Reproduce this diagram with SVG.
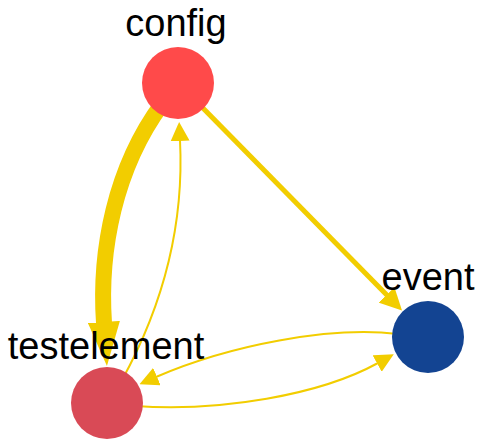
<svg xmlns="http://www.w3.org/2000/svg" width="481" height="443" viewBox="0 0 481 443">
  <style>
    .edge { fill: none; stroke: #F2CD00; }
    .thick { stroke-width: 16; }
    .mid { stroke-width: 5; }
    .thin { stroke-width: 2; }
    .label { font-family: "Liberation Sans", Arial, sans-serif; font-size: 38px; fill: #000; text-anchor: middle; }
    .head { fill: #F2CD00; }
  </style>
  <defs>
    <marker id="ahBig" markerUnits="userSpaceOnUse" viewBox="0 0 44 32" markerWidth="44" markerHeight="32" refX="1" refY="16" orient="auto">
      <path class="head" d="M0,0 L44,16 L0,32 Z"/>
    </marker>
    <marker id="ahMid" markerUnits="userSpaceOnUse" viewBox="0 0 22 22" markerWidth="22" markerHeight="22" refX="1" refY="11" orient="auto">
      <path class="head" d="M0,0 L22,11 L0,22 Z"/>
    </marker>
    <marker id="ahSmall" markerUnits="userSpaceOnUse" viewBox="0 0 19 19" markerWidth="19" markerHeight="19" refX="1" refY="9.5" orient="auto">
      <path class="head" d="M0,0 L19,9.5 L0,19 Z"/>
    </marker>
  </defs>
  <g id="connectors">
    <path id="e-config-testelement" class="edge thick" d="M162,104 C115,168 99,250 104,323" marker-end="url(#ahBig)"/>
    <path id="e-testelement-config" class="edge thin" d="M122,380 C166,300 184,220 180,140" marker-end="url(#ahSmall)"/>
    <path id="e-config-event" class="edge mid" d="M196,101 L387.3,295.6" marker-end="url(#ahMid)"/>
    <path id="e-event-testelement" class="edge thin" d="M398,334 C330,326 230,345 156,377" marker-end="url(#ahSmall)"/>
    <path id="e-testelement-event" class="edge thin" d="M135,406 C220,412 320,395 378,363" marker-end="url(#ahSmall)"/>
  </g>
  <g id="node-config">
    <circle cx="178" cy="83" r="36" fill="#FF4A4A"/>
    <text class="label" x="176" y="36">config</text>
  </g>
  <g id="node-testelement">
    <circle cx="107" cy="403" r="36" fill="#D94A56"/>
    <text class="label" x="106" y="359">testelement</text>
  </g>
  <g id="node-event">
    <circle cx="428" cy="337" r="36" fill="#134492"/>
    <text class="label" x="428" y="290">event</text>
  </g>
</svg>
